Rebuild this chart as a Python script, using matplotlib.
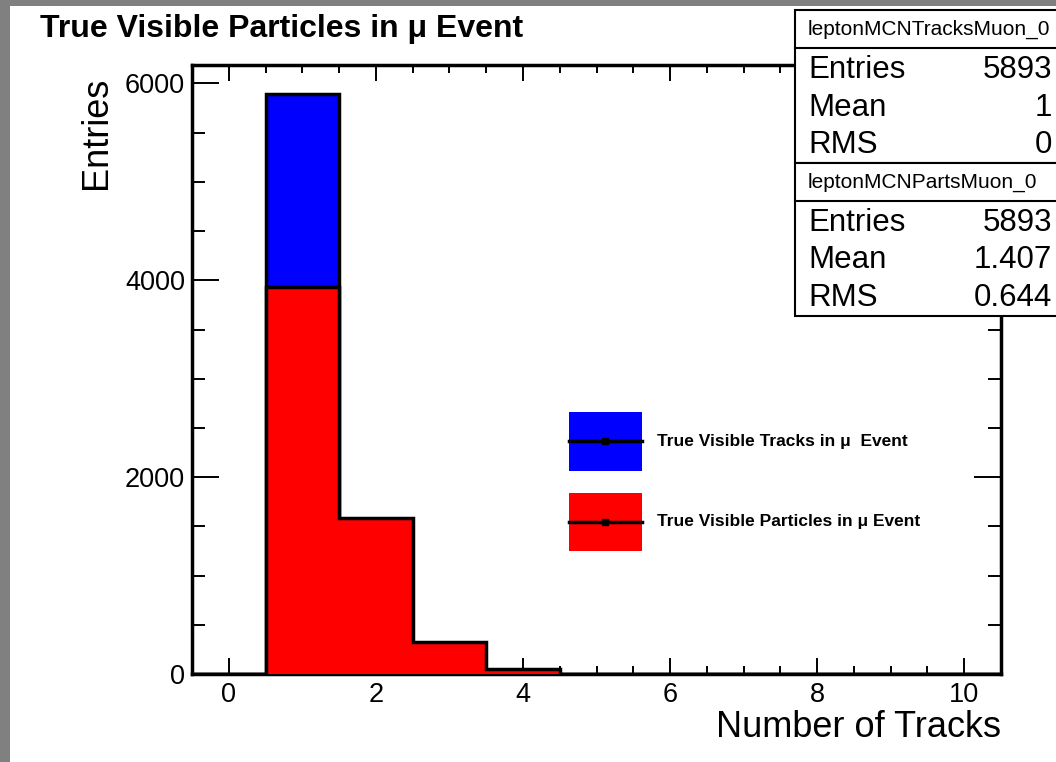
import matplotlib
matplotlib.use("Agg")
import matplotlib.pyplot as plt
import numpy as np
from matplotlib.patches import Rectangle, Patch
from matplotlib.lines import Line2D
from matplotlib.legend_handler import HandlerLine2D

plt.rcParams.update({
    "font.family": ["Liberation Sans", "DejaVu Sans"],
    "axes.linewidth": 2.5,
})

# ── Histogram contents (integer bins, -0.5 .. 10.5) ─────────────────────────
bin_edges = np.arange(-0.5, 11.0, 1.0)
n_tracks = [0, 5893, 0, 0, 0, 0, 0, 0, 0, 0, 0]
n_parts = [0, 3930, 1580, 330, 48, 5, 0, 0, 0, 0, 0]

stats_tracks = {"name": "leptonMCNTracksMuon_0", "Entries": "5893", "Mean": "1", "RMS": "0"}
stats_parts = {"name": "leptonMCNPartsMuon_0", "Entries": "5893", "Mean": "1.407", "RMS": "0.644"}

W, H = 1056, 762
fig = plt.figure(figsize=(W / 100, H / 100), dpi=100)
fig.patch.set_facecolor("white")

def fx(px):
    return px / W

def fy(py):
    return 1 - py / H

# canvas frame (grey strips at left and top)
fig.add_artist(Rectangle((0, 0), fx(10), 1, transform=fig.transFigure,
                         facecolor="#808080", edgecolor="none"))
fig.add_artist(Rectangle((0, fy(6)), 1, 6 / H, transform=fig.transFigure,
                         facecolor="#808080", edgecolor="none"))

ax = fig.add_axes([fx(192), fy(674), fx(1001) - fx(192), fy(65) - fy(674)])

ax.stairs(n_tracks, bin_edges, fill=True, facecolor="#0000ff",
          edgecolor="black", linewidth=2.5, zorder=2)
ax.stairs(n_parts, bin_edges, fill=True, facecolor="#ff0000",
          edgecolor="black", linewidth=2.5, zorder=3)

ax.set_xlim(-0.5, 10.5)
ax.set_ylim(0, 1.05 * max(n_tracks))

ax.set_xticks(np.arange(0, 11, 2))
ax.set_xticks(np.arange(-0.5, 10.51, 0.5), minor=True)
ax.set_yticks(np.arange(0, 6001, 2000))
ax.set_yticks(np.arange(0, 6001, 500), minor=True)

ax.tick_params(axis="both", which="both", direction="in", top=True, right=True,
               width=1.4, labelsize=19.5)
ax.tick_params(axis="x", which="major", length=11.5, pad=6)
ax.tick_params(axis="x", which="minor", length=5.8)
ax.tick_params(axis="y", which="major", length=19.4, pad=5)
ax.tick_params(axis="y", which="minor", length=9.4)

ax.set_xlabel("Number of Tracks", fontsize=26, loc="right")
ax.xaxis.set_label_coords(1.0, -0.059)
ax.set_ylabel("Entries", fontsize=26, loc="top")
ax.yaxis.set_label_coords(-0.097, 0.98)

fig.text(fx(40), fy(29), "True Visible Particles in μ Event", fontsize=23,
         fontweight="bold", ha="left", va="center")


class CentredLine(HandlerLine2D):
    """Legend line drawn through the middle of the fill box."""
    def create_artists(self, legend, orig_handle, xdescent, ydescent,
                       width, height, fontsize, trans):
        return super().create_artists(legend, orig_handle, xdescent, ydescent,
                                      width, height - ydescent, fontsize, trans)


# legend: filled box with a line through it
handles = [
    (Patch(facecolor="#0000ff", edgecolor="none"),
     Line2D([], [], color="black", lw=2.5, marker="s", markersize=4)),
    (Patch(facecolor="#ff0000", edgecolor="none"),
     Line2D([], [], color="black", lw=2.5, marker="s", markersize=4)),
]
labels = ["True Visible Tracks in μ  Event", "True Visible Particles in μ Event"]
ax.legend(handles, labels, loc="upper left", frameon=False,
          bbox_to_anchor=(fx(569), fy(412)), bbox_transform=fig.transFigure,
          borderpad=0, borderaxespad=0,
          prop={"weight": "bold", "size": 12.5},
          handlelength=4.2, handleheight=4.84, handletextpad=0.85,
          labelspacing=1.25, handler_map={Line2D: CentredLine()})

# statistics boxes
def stat_box(top, stats):
    box_h = 153
    fig.add_artist(Rectangle((fx(795), fy(top + box_h)), fx(300), box_h / H,
                             transform=fig.transFigure, facecolor="white",
                             edgecolor="black", linewidth=1.5, zorder=5))
    fig.add_artist(Line2D([fx(795), 1.0], [fy(top + 38), fy(top + 38)],
                          transform=fig.transFigure, color="black",
                          linewidth=1.5, zorder=6))
    fig.text(fx(808), fy(top + 19), stats["name"], fontsize=15,
             ha="left", va="center", zorder=7)
    for i, key in enumerate(["Entries", "Mean", "RMS"]):
        y = top + 60 + i * 37.5
        fig.text(fx(808), fy(y), key, fontsize=22.5, ha="left", va="center", zorder=7)
        fig.text(fx(1052), fy(y), stats[key], fontsize=22.5, ha="right",
                 va="center", zorder=7)

stat_box(10, stats_tracks)
stat_box(163, stats_parts)

fig.savefig("out.png", dpi=100)
